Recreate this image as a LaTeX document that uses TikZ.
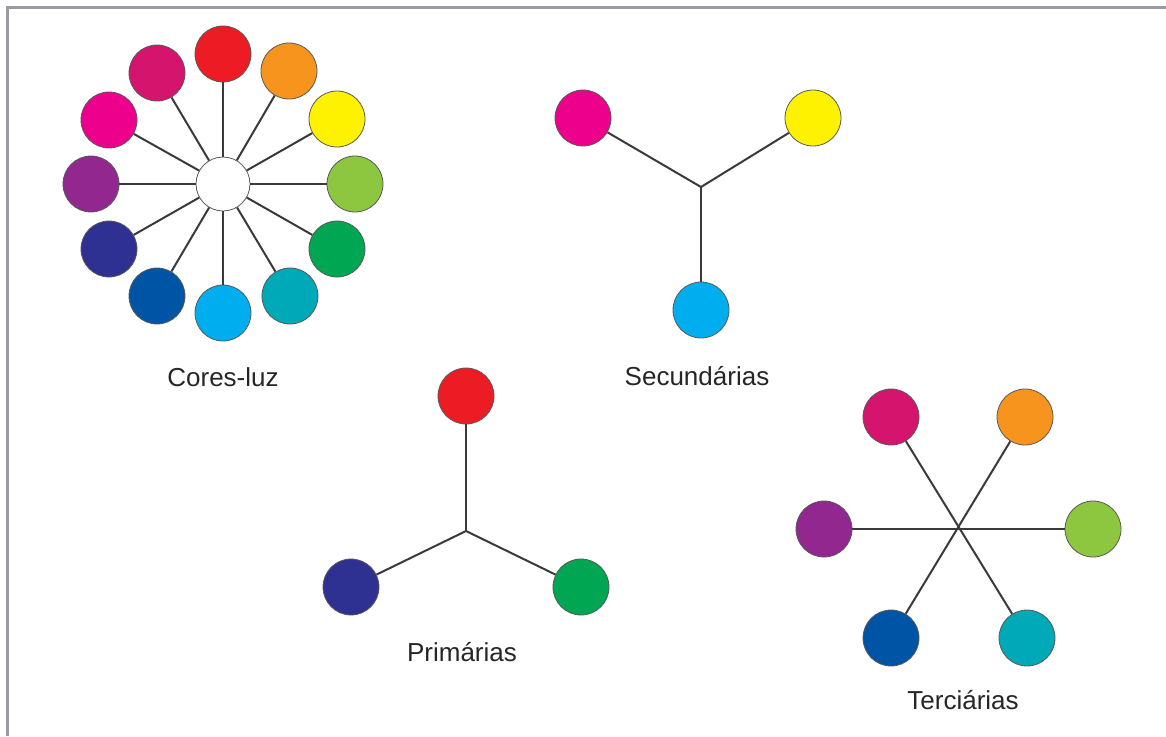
\documentclass[tikz,border=0pt]{standalone}
\usepackage{fontspec}
\setmainfont{Liberation Sans}
\usepackage{tikz}
\usetikzlibrary{positioning}

\definecolor{cRed}{HTML}{ED1C24}
\definecolor{cOrange}{HTML}{F7941D}
\definecolor{cYellow}{HTML}{FFF200}
\definecolor{cLime}{HTML}{8DC63F}
\definecolor{cGreen}{HTML}{00A651}
\definecolor{cTeal}{HTML}{00A9B8}
\definecolor{cCyan}{HTML}{00AEEF}
\definecolor{cBlue}{HTML}{0054A6}
\definecolor{cViolet}{HTML}{2E3192}
\definecolor{cPurple}{HTML}{92278F}
\definecolor{cMagenta}{HTML}{EC008C}
\definecolor{cCrimson}{HTML}{D4146D}
\definecolor{cFrame}{HTML}{9B9AA0}
\definecolor{cLine}{HTML}{3A3A3A}

\begin{document}
\begin{tikzpicture}[x=1pt, y=-1pt,
        dot/.style={circle, draw=black!65, line width=0.8pt, minimum size=56pt, inner sep=0pt},
        spoke/.style={draw=cLine, line width=2pt},
        caption/.style={font=\fontsize{26}{30}\selectfont, text=black!85}]
        \useasboundingbox (0,0) rectangle (1166,736);
        \draw[cFrame, line width=3pt] (7,736) -- (7,7) -- (1166,7);

        % Cores-luz
        \node[dot, fill=white, minimum size=54pt] (Hub) at (223,184) {};
        \node[dot, fill=cRed] (WheelRed) at (223,54) {};
        \node[dot, fill=cOrange] (WheelOrange) at (289,71) {};
        \node[dot, fill=cYellow] (WheelYellow) at (337,119) {};
        \node[dot, fill=cLime] (WheelLime) at (355,184) {};
        \node[dot, fill=cGreen] (WheelGreen) at (337,249) {};
        \node[dot, fill=cTeal] (WheelTeal) at (290,296) {};
        \node[dot, fill=cCyan] (WheelCyan) at (223,313) {};
        \node[dot, fill=cBlue] (WheelBlue) at (157,296) {};
        \node[dot, fill=cViolet] (WheelViolet) at (109,249) {};
        \node[dot, fill=cPurple] (WheelPurple) at (91,184) {};
        \node[dot, fill=cMagenta] (WheelMagenta) at (109,120) {};
        \node[dot, fill=cCrimson] (WheelCrimson) at (157,73) {};
        \draw[spoke] (Hub) -- (WheelRed);
        \draw[spoke] (Hub) -- (WheelOrange);
        \draw[spoke] (Hub) -- (WheelYellow);
        \draw[spoke] (Hub) -- (WheelLime);
        \draw[spoke] (Hub) -- (WheelGreen);
        \draw[spoke] (Hub) -- (WheelTeal);
        \draw[spoke] (Hub) -- (WheelCyan);
        \draw[spoke] (Hub) -- (WheelBlue);
        \draw[spoke] (Hub) -- (WheelViolet);
        \draw[spoke] (Hub) -- (WheelPurple);
        \draw[spoke] (Hub) -- (WheelMagenta);
        \draw[spoke] (Hub) -- (WheelCrimson);
        \node[caption] (LabelWheel) at (223,377) {Cores-luz};

        % Secundarias
        \coordinate (SecJoin) at (701,187);
        \node[dot, fill=cMagenta] (SecMagenta) at (583,118) {};
        \node[dot, fill=cYellow] (SecYellow) at (813,118) {};
        \node[dot, fill=cCyan] (SecCyan) at (701,310) {};
        \draw[spoke] (SecJoin) -- (SecMagenta);
        \draw[spoke] (SecJoin) -- (SecYellow);
        \draw[spoke] (SecJoin) -- (SecCyan);
        \node[caption] (LabelSec) at (697,376) {Secundárias};

        % Primarias
        \coordinate (PriJoin) at (466,531);
        \node[dot, fill=cRed] (PriRed) at (466,396) {};
        \node[dot, fill=cViolet] (PriViolet) at (351,587) {};
        \node[dot, fill=cGreen] (PriGreen) at (581,587) {};
        \draw[spoke] (PriJoin) -- (PriRed);
        \draw[spoke] (PriJoin) -- (PriViolet);
        \draw[spoke] (PriJoin) -- (PriGreen);
        \node[caption] (LabelPri) at (462,652) {Primárias};

        % Terciarias
        \node[dot, fill=cCrimson] (TerCrimson) at (891,417) {};
        \node[dot, fill=cOrange] (TerOrange) at (1025,417) {};
        \node[dot, fill=cPurple] (TerPurple) at (824,529) {};
        \node[dot, fill=cLime] (TerLime) at (1093,529) {};
        \node[dot, fill=cBlue] (TerBlue) at (891,638) {};
        \node[dot, fill=cTeal] (TerTeal) at (1027,638) {};
        \draw[spoke] (TerCrimson) -- (TerTeal);
        \draw[spoke] (TerOrange) -- (TerBlue);
        \draw[spoke] (TerPurple) -- (TerLime);
        \node[caption] (LabelTer) at (963,700) {Terciárias};
    \end{tikzpicture}
\end{document}
